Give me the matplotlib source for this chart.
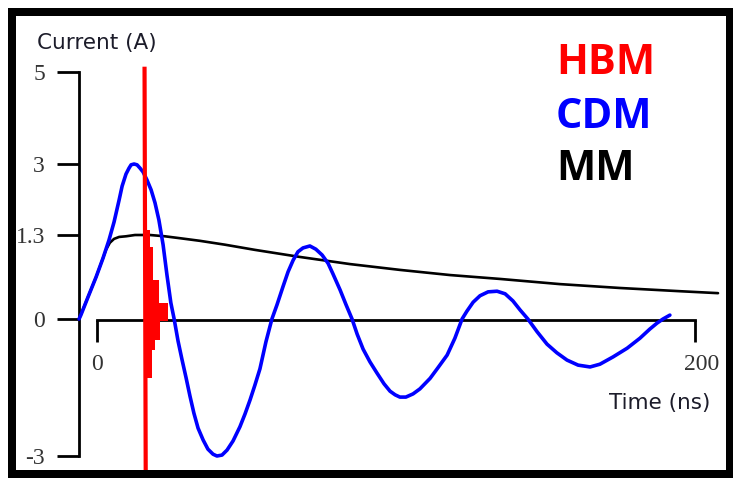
import numpy as np
import matplotlib
matplotlib.use("Agg")
import matplotlib.pyplot as plt
from matplotlib.patches import Rectangle
from matplotlib.transforms import ScaledTranslation

# --- data (time in ns, current in A) ---
cdm_t = [-6.0, -5.4, -3.0, -0.3, 2.0, 4.0, 5.7, 7.4, 8.4, 9.7, 10.7, 11.4,
         12.4, 13.4, 14.4, 15.4, 16.7, 18.1, 19.4, 20.7, 22.1, 23.4, 24.7,
         25.8, 27.1, 28.4, 29.8, 31.1, 32.4, 33.8, 35.5, 37.1, 38.8, 40.1,
         41.8, 43.5, 45.5, 47.8, 49.5, 51.2, 52.8, 54.5, 56.5, 58.5, 60.2,
         62.2, 63.9, 65.6, 67.2, 68.9, 71.2, 73.2, 75.3, 77.3, 78.9, 81.3,
         83.3, 85.3, 87.0, 89.0, 91.3, 93.6, 96.0, 98.0, 99.7, 101.3, 103.3,
         105.7, 108.0, 111.4, 114.0, 117.1, 119.7, 122.1, 123.7, 125.8, 128.1,
         130.8, 133.8, 136.5, 139.1, 141.5, 144.1, 147.2, 150.5, 153.8, 157.2,
         160.9, 164.9, 168.2, 172.6, 177.3, 181.6, 184.9, 187.3, 189.3, 191.6]
cdm_i = [0.0, 0.06, 0.34, 0.65, 0.94, 1.22, 1.61, 2.14, 2.47, 2.76, 2.90, 2.98,
         3.00, 2.98, 2.90, 2.81, 2.62, 2.38, 2.07, 1.66, 1.15, 0.68, 0.25,
         0.0, -0.48, -0.88, -1.29, -1.69, -2.06, -2.39, -2.65, -2.85, -2.96, -3.0,
         -2.98, -2.87, -2.67, -2.36, -2.08, -1.77, -1.45, -1.09, -0.50, 0.0, 0.22,
         0.50, 0.73, 0.91, 1.04, 1.10, 1.13, 1.08, 0.99, 0.86, 0.70, 0.45,
         0.22, 0.0, -0.33, -0.66, -0.94, -1.18, -1.42, -1.58, -1.66, -1.71, -1.71,
         -1.64, -1.53, -1.30, -1.07, -0.79, -0.42, 0.0, 0.12, 0.26, 0.36,
         0.42, 0.43, 0.39, 0.28, 0.14, 0.0, -0.28, -0.55, -0.74, -0.90,
         -1.01, -1.05, -0.99, -0.83, -0.64, -0.42, -0.22, -0.09, 0.0, 0.06]

mm_t = [-6.0, -0.3, 3.0, 4.3, 5.7, 7.4, 9.7, 12.7, 17.7, 22.7, 27.8, 34.4,
        42.8, 52.8, 67.9, 84.6, 101.3, 118.1, 134.8, 154.8, 174.9, 195.0, 207.7]
mm_i = [0.0, 0.65, 1.07, 1.18, 1.24, 1.27, 1.28, 1.30, 1.30, 1.28, 1.25, 1.21,
        1.15, 1.07, 0.96, 0.85, 0.76, 0.68, 0.62, 0.54, 0.48, 0.43, 0.40]

hbm_spike_t = [15.9, 16.3]
hbm_spike_i = [5.07, -3.6]
hbm_ring_t = [15.9, 17.7, 18.4, 18.7, 19.4, 20.7, 21.1, 23.7]
hbm_ring_hi = [1.42, 1.11, 1.11, 0.60, 0.60, 0.25, 0.25, 0.0]
hbm_ring_lo = [-1.29, -1.29, -0.68, -0.68, -0.46, -0.46, -0.05, 0.0]

y_ticks = [-3, 0, 1.3, 3, 5]
y_labels = ["-3", "0", "1.3", "3", "5"]
x_ticks = [0, 200]
x_labels = ["0", "200"]

# the sketch's current axis is not linear: tick value -> vertical position
scale_vals = np.array([-30, -3, 0, 1.3, 3, 5, 30])
scale_pos = np.array([456 + 27 * 45.7, 456, 319, 235, 164, 72, 72 - 25 * 46.0])


def fwd(v):
    return -np.interp(v, scale_vals, scale_pos)


def inv(u):
    return np.interp(u, -scale_pos, scale_vals)


W, H = 733, 478
fig = plt.figure(figsize=(W / 100, H / 100), dpi=100)
ax = fig.add_axes([16 / W, 8 / H, 710 / W, 454 / H])
ax.patch.set_visible(False)

ax.set_yscale("function", functions=(fwd, inv))
ax.set_xlim((16 - 97) / 2.99, (726 - 97) / 2.99)
ax.set_ylim(-3 - 14 / 45.7, 5 + 56 / 46.0)

ax.plot(mm_t, mm_i, color="black", lw=1.9, zorder=3,
        solid_joinstyle="round", solid_capstyle="round")
ax.plot(cdm_t, cdm_i, color="#0000ff", lw=2.6, zorder=4,
        solid_joinstyle="round", solid_capstyle="round")
ax.fill_between(hbm_ring_t, hbm_ring_lo, hbm_ring_hi, step="post",
                color="#ff0000", lw=0, zorder=5)
ax.plot(hbm_spike_t, hbm_spike_i, color="#ff0000", lw=3.0, zorder=5)

for side in ["top", "right"]:
    ax.spines[side].set_visible(False)
ax.spines["left"].set_position(("data", -6.0))
ax.spines["left"].set_bounds(-3, 5)
ax.spines["bottom"].set_position(("data", -0.03))
ax.spines["bottom"].set_bounds(0, 200)
for side in ["left", "bottom"]:
    ax.spines[side].set_linewidth(2.0)

ax.set_yticks(y_ticks)
ax.set_yticklabels(y_labels)
ax.set_xticks(x_ticks)
ax.set_xticklabels(x_labels)
ax.minorticks_off()
ax.tick_params(axis="both", direction="out", length=15.5, width=2.0,
               labelsize=17, labelcolor="#333333")
ax.tick_params(axis="y", pad=9)
ax.tick_params(axis="x", pad=9)
for lbl in ax.get_xticklabels() + ax.get_yticklabels():
    lbl.set_family("Liberation Serif")
xl = ax.get_xticklabels()
xl[1].set_transform(xl[1].get_transform() + ScaledTranslation(0.07, 0, fig.dpi_scale_trans))

fig.text(97 / W, 1 - 43 / H, "Current (A)", family="DejaVu Sans", fontsize=15.5,
         color="#1c1c2a", ha="center", va="center")
fig.text(660 / W, 1 - 403 / H, "Time (ns)", family="DejaVu Sans", fontsize=15.5,
         color="#1c1c2a", ha="center", va="center")

for name, col, yc in [("HBM", "#ff0000", 63), ("CDM", "#0000ff", 117), ("MM", "black", 170)]:
    fig.text(556 / W, 1 - yc / H, name, family="Open Sans", weight="bold",
             fontsize=30, color=col, ha="left", va="center")

fig.add_artist(Rectangle((12 / W, 4 / H), (730 - 12) / W, (466 - 4) / H,
                         transform=fig.transFigure, fill=False, lw=8 * 0.72,
                         ec="black", joinstyle="miter"))

fig.savefig("out.png", dpi=100)
